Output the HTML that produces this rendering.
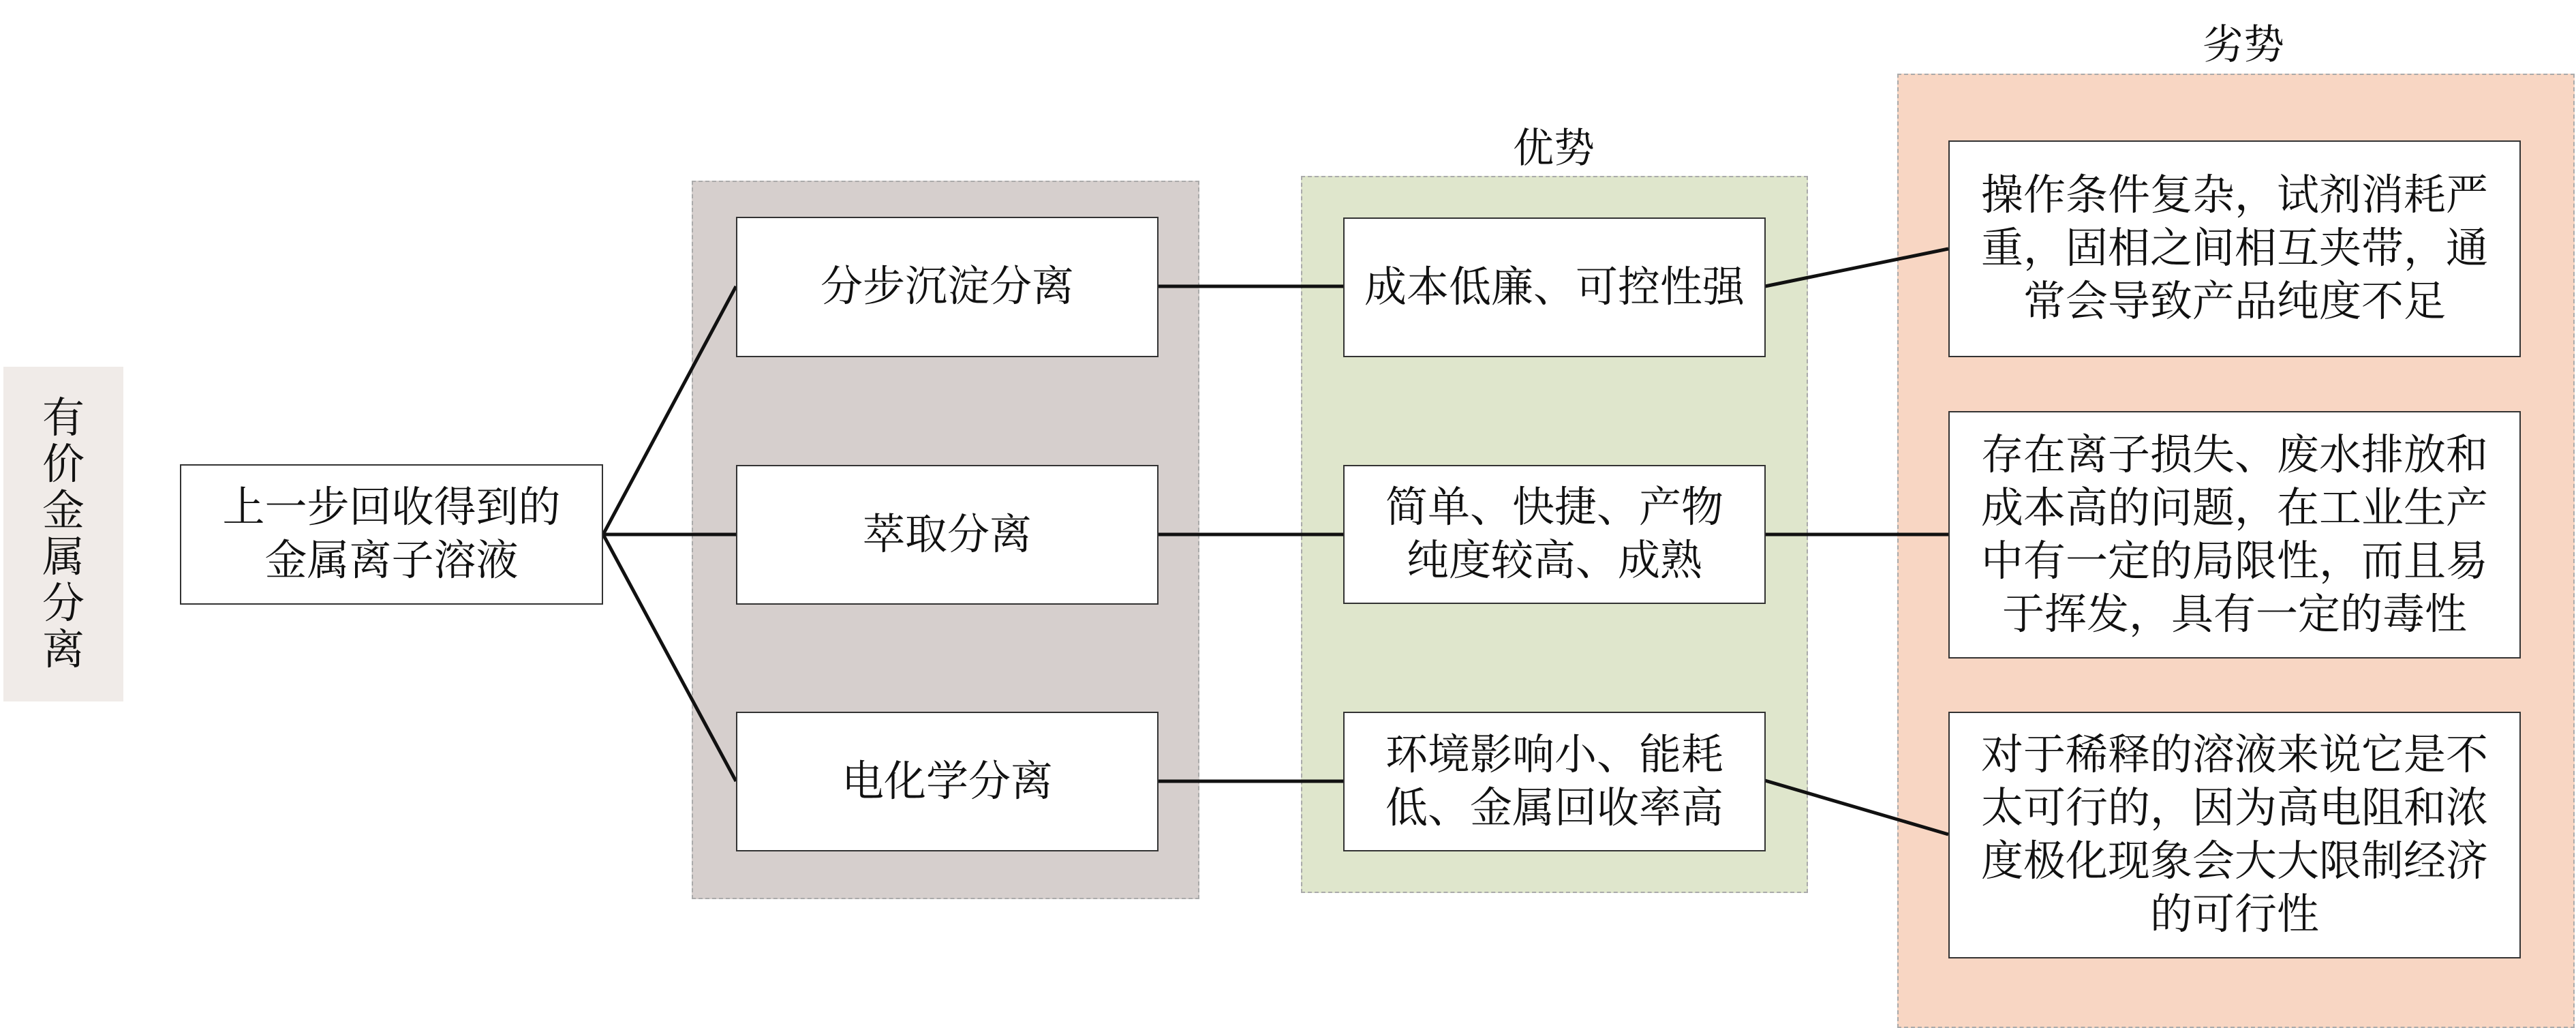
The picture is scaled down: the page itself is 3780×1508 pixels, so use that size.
<!DOCTYPE html>
<html><head><meta charset="utf-8"><style>
body{margin:0;width:3780px;height:1506px;background:#fff;position:relative;overflow:hidden;font-family:"Liberation Serif","Noto Serif CJK SC",serif;color:#111}
div{position:absolute;box-sizing:border-box}
.panel{border:2px dashed #aaa}
.box{background:#fff;border:2px solid #333;display:flex;align-items:center;justify-content:center;text-align:center;font-size:62px;line-height:78px;white-space:nowrap}
.t{font-size:60px;text-align:center}
</style></head><body>
<div style="left:5px;top:538px;width:176px;height:491px;background:#f0ebe8;display:flex;align-items:center;justify-content:center;font-size:62px;line-height:68px;text-align:center">有<br>价<br>金<br>属<br>分<br>离</div>
<div class="panel" style="left:1015px;top:265px;width:745px;height:1054px;background:#d6cfcd"></div>
<div class="panel" style="left:1909px;top:258px;width:744px;height:1052px;background:#dfe6cc"></div>
<div class="panel" style="left:2784px;top:108px;width:994px;height:1400px;background:#f8d6c3"></div>
<div class="t" style="left:2180px;top:170px;width:200px">优势</div>
<div class="t" style="left:3192px;top:18px;width:200px">劣势</div>
<svg width="3780" height="1506" style="position:absolute;left:0;top:0">
<g stroke="#111" stroke-width="5" fill="none">
<line x1="885" y1="784" x2="1080" y2="420"/>
<line x1="885" y1="784" x2="1080" y2="784"/>
<line x1="885" y1="784" x2="1080" y2="1146"/>
<line x1="1700" y1="420" x2="1971" y2="420"/>
<line x1="1700" y1="784" x2="1971" y2="784"/>
<line x1="1700" y1="1146" x2="1971" y2="1146"/>
<line x1="2590" y1="420" x2="2859" y2="365"/>
<line x1="2590" y1="784" x2="2859" y2="784"/>
<line x1="2590" y1="1145" x2="2859" y2="1224"/>
</g></svg>
<div class="box" style="left:264px;top:681px;width:621px;height:206px">上一步回收得到的<br>金属离子溶液</div>
<div class="box" style="left:1080px;top:318px;width:620px;height:206px">分步沉淀分离</div>
<div class="box" style="left:1080px;top:682px;width:620px;height:205px">萃取分离</div>
<div class="box" style="left:1080px;top:1044px;width:620px;height:205px">电化学分离</div>
<div class="box" style="left:1971px;top:319px;width:620px;height:205px">成本低廉、可控性强</div>
<div class="box" style="left:1971px;top:682px;width:620px;height:204px">简单、快捷、产物<br>纯度较高、成熟</div>
<div class="box" style="left:1971px;top:1044px;width:620px;height:205px">环境影响小、能耗<br>低、金属回收率高</div>
<div class="box" style="left:2859px;top:206px;width:840px;height:318px">操作条件复杂，试剂消耗严<br>重，固相之间相互夹带，通<br>常会导致产品纯度不足</div>
<div class="box" style="left:2859px;top:603px;width:840px;height:363px">存在离子损失、废水排放和<br>成本高的问题，在工业生产<br>中有一定的局限性，而且易<br>于挥发，具有一定的毒性</div>
<div class="box" style="left:2859px;top:1044px;width:840px;height:362px">对于稀释的溶液来说它是不<br>太可行的，因为高电阻和浓<br>度极化现象会大大限制经济<br>的可行性</div>
</body></html>
